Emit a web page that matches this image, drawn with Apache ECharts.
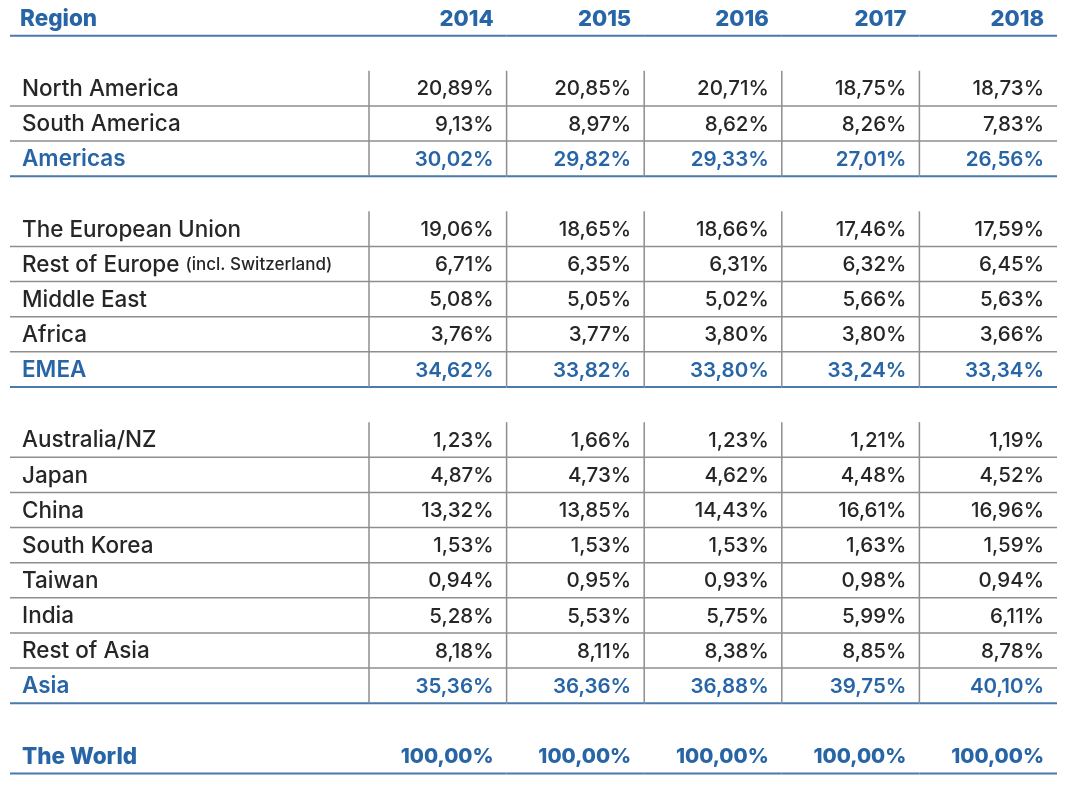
<!DOCTYPE html>
<html>
<head>
<meta charset="utf-8">
<script src="https://cdn.jsdelivr.net/npm/echarts@6/dist/echarts.min.js"></script>
<style>
  html, body { margin: 0; padding: 0; background: #fff; }
  #table_chart { width: 1067px; height: 785px; }
</style>
</head>
<body>
<div id="table_chart"></div>
<script>
// columns
var years = ['2014', '2015', '2016', '2017', '2018'];

// regions, share of world per year (%)
var northAmerica  = [20.89, 20.85, 20.71, 18.75, 18.73];
var southAmerica  = [9.13, 8.97, 8.62, 8.26, 7.83];
var americas      = [30.02, 29.82, 29.33, 27.01, 26.56];
var europeanUnion = [19.06, 18.65, 18.66, 17.46, 17.59];
var restOfEurope  = [6.71, 6.35, 6.31, 6.32, 6.45];
var middleEast    = [5.08, 5.05, 5.02, 5.66, 5.63];
var africa        = [3.76, 3.77, 3.80, 3.80, 3.66];
var emea          = [34.62, 33.82, 33.80, 33.24, 33.34];
var australiaNZ   = [1.23, 1.66, 1.23, 1.21, 1.19];
var japan         = [4.87, 4.73, 4.62, 4.48, 4.52];
var china         = [13.32, 13.85, 14.43, 16.61, 16.96];
var southKorea    = [1.53, 1.53, 1.53, 1.63, 1.59];
var taiwan        = [0.94, 0.95, 0.93, 0.98, 0.94];
var india         = [5.28, 5.53, 5.75, 5.99, 6.11];
var restOfAsia    = [8.18, 8.11, 8.38, 8.85, 8.78];
var asia          = [35.36, 36.36, 36.88, 39.75, 40.10];
var theWorld      = [100, 100, 100, 100, 100];

// rows of the table, empty ones are the spacers between groups
var rowLabels = ['Region', '', 'North America', 'South America', 'Americas', '',
  'The European Union', 'Rest of Europe', 'Middle East', 'Africa', 'EMEA', '',
  'Australia/NZ', 'Japan', 'China', 'South Korea', 'Taiwan', 'India', 'Rest of Asia', 'Asia', '',
  'The World'];
var rowKinds = ['header', 'blank', 'item', 'item', 'total', 'blank',
  'item', 'item', 'item', 'item', 'total', 'blank',
  'item', 'item', 'item', 'item', 'item', 'item', 'item', 'total', 'blank',
  'world'];
var rowValues = [null, null, northAmerica, southAmerica, americas, null,
  europeanUnion, restOfEurope, middleEast, africa, emea, null,
  australiaNZ, japan, china, southKorea, taiwan, india, restOfAsia, asia, null,
  theWorld];

var BLUE = '#2865a6';
var DARK = '#262626';
var GRAY_LINE = '#8e8e8e';
var BLUE_LINE = '#4a79ac';
var FONT = 'Inter, "Open Sans", sans-serif';
var LABEL_SIZE = 22.5;
var VALUE_SIZE = 20.5;
var YEAR_SIZE = 22;

function fmt(v) {
  return v.toFixed(2).replace('.', ',') + '%';
}

function textStyleFor(kind) {
  if (kind === 'header' || kind === 'world') return { fill: BLUE, fontWeight: 800 };
  if (kind === 'total') return { fill: BLUE, fontWeight: 600 };
  return { fill: DARK, fontWeight: 500 };
}

// cells: [col, row] for each grid
var labelCells = [];
var valueCells = [];
rowKinds.forEach(function (kind, r) {
  labelCells.push([0, r]);
  years.forEach(function (y, c) { valueCells.push([c, r]); });
});

function borders(kind, left, top, w, h, withLeft) {
  var out = [];
  var bottom = top + h;
  if (kind === 'item') {
    out.push({ type: 'line', shape: { x1: left, y1: bottom, x2: left + w, y2: bottom },
      style: { stroke: GRAY_LINE, lineWidth: 1.5 } });
  } else if (kind === 'total' || kind === 'header' || kind === 'world') {
    out.push({ type: 'line', shape: { x1: left, y1: bottom, x2: left + w, y2: bottom },
      style: { stroke: BLUE_LINE, lineWidth: 2 } });
  }
  if (withLeft && (kind === 'item' || kind === 'total')) {
    out.push({ type: 'line', shape: { x1: left, y1: top, x2: left, y2: bottom },
      style: { stroke: GRAY_LINE, lineWidth: 1.5 } });
  }
  return out;
}

function renderLabel(params, api) {
  var r = api.value(1);
  var kind = rowKinds[r];
  var c = api.coord([api.value(0), r]);
  var s = api.size([1, 1]);
  var left = c[0] - s[0] / 2, top = c[1] - s[1] / 2;
  var children = borders(kind, left, top, s[0], s[1], false);
  var label = rowLabels[r];
  if (label) {
    var st = textStyleFor(kind);
    var isRest = label === 'Rest of Europe';
    children.push({
      type: 'text',
      style: {
        x: left + (kind === 'header' ? 10 : 12),
        y: c[1] + 1,
        text: isRest ? '{a|Rest of Europe} {b|(incl. Switzerland)}' : label,
        rich: isRest ? {
          a: { fontSize: LABEL_SIZE, fontWeight: 500, fill: DARK, fontFamily: FONT },
          b: { fontSize: 17, fontWeight: 500, fill: DARK, fontFamily: FONT }
        } : undefined,
        fill: st.fill,
        fontWeight: st.fontWeight,
        fontSize: LABEL_SIZE,
        fontFamily: FONT,
        align: 'left',
        verticalAlign: 'middle'
      }
    });
  }
  return { type: 'group', children: children };
}

function renderValue(params, api) {
  var col = api.value(0);
  var r = api.value(1);
  var kind = rowKinds[r];
  var c = api.coord([col, r]);
  var s = api.size([1, 1]);
  var left = c[0] - s[0] / 2, top = c[1] - s[1] / 2;
  var children = borders(kind, left, top, s[0], s[1], true);
  var txt = null;
  if (kind === 'header') txt = years[col];
  else if (rowValues[r]) txt = fmt(rowValues[r][col]);
  if (txt) {
    var st = textStyleFor(kind);
    children.push({
      type: 'text',
      style: {
        x: left + s[0] - 13,
        y: c[1] + 1,
        text: txt,
        fill: st.fill,
        fontWeight: st.fontWeight,
        fontSize: kind === 'header' ? YEAR_SIZE : VALUE_SIZE,
        fontFamily: FONT,
        align: 'right',
        verticalAlign: 'middle'
      }
    });
  }
  return { type: 'group', children: children };
}

var chart = echarts.init(document.getElementById('table_chart'), null, { renderer: 'canvas' });
chart.setOption({
  animation: false,
  grid: [
    { left: 10, width: 359, top: 0.5, height: 773 },
    { left: 369, right: 10, top: 0.5, height: 773 }
  ],
  xAxis: [
    { type: 'category', gridIndex: 0, data: ['Region'], show: false },
    { type: 'category', gridIndex: 1, data: years, show: false }
  ],
  yAxis: [
    { type: 'category', gridIndex: 0, data: rowLabels.map(function (l, i) { return 'r' + i; }), inverse: true, show: false },
    { type: 'category', gridIndex: 1, data: rowLabels.map(function (l, i) { return 'r' + i; }), inverse: true, show: false }
  ],
  series: [
    { type: 'custom', xAxisIndex: 0, yAxisIndex: 0, data: labelCells, renderItem: renderLabel,
      encode: { x: 0, y: 1 }, silent: true },
    { type: 'custom', xAxisIndex: 1, yAxisIndex: 1, data: valueCells, renderItem: renderValue,
      encode: { x: 0, y: 1 }, silent: true }
  ]
});
</script>
</body>
</html>
